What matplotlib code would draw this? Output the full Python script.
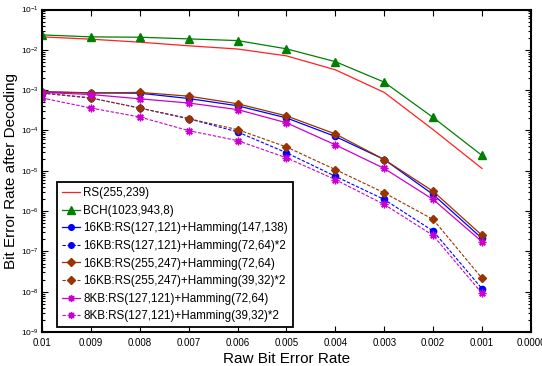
import matplotlib
matplotlib.use('Agg')
import matplotlib.pyplot as plt
from matplotlib.ticker import FixedLocator, FixedFormatter, LogLocator, NullFormatter

# raw bit error rate (x), decoded BER for each scheme (y)
raw_ber = [0.01, 0.009, 0.008, 0.007, 0.006, 0.005, 0.004, 0.003, 0.002, 0.001]

rs_255_239 = [2.1e-2, 1.84e-2, 1.55e-2, 1.26e-2, 1.05e-2, 7.1e-3, 3.2e-3, 8.8e-4, 1.05e-4, 1.14e-5]
bch_1023 = [2.35e-2, 2.1e-2, 2.06e-2, 1.87e-2, 1.7e-2, 1.06e-2, 5.1e-3, 1.58e-3, 2.1e-4, 2.4e-5]
kb16_rs127_h147 = [9.1e-4, 8.6e-4, 8.4e-4, 6.2e-4, 4.1e-4, 2.05e-4, 7.1e-5, 1.9e-5, 2.58e-6, 2.1e-7]
kb16_rs127_h72x2 = [8.5e-4, 6.4e-4, 3.6e-4, 1.96e-4, 9.2e-5, 2.8e-5, 7.3e-6, 1.94e-6, 3.2e-7, 1.19e-8]
kb16_rs255_h72 = [9.1e-4, 8.5e-4, 8.8e-4, 7.1e-4, 4.6e-4, 2.3e-4, 8.2e-5, 1.9e-5, 3.1e-6, 2.5e-7]
kb16_rs255_h39x2 = [8.5e-4, 6.4e-4, 3.6e-4, 1.96e-4, 1.05e-4, 3.9e-5, 1.07e-5, 2.84e-6, 6.2e-7, 2.15e-8]
kb8_rs127_h72 = [8.8e-4, 7.8e-4, 6.1e-4, 4.8e-4, 3.3e-4, 1.55e-4, 4.4e-5, 1.14e-5, 1.94e-6, 1.74e-7]
kb8_rs127_h39x2 = [6.4e-4, 3.6e-4, 2.16e-4, 9.9e-5, 5.6e-5, 2.1e-5, 6.05e-6, 1.46e-6, 2.49e-7, 9.1e-9]

labels = ['RS(255,239)', 'BCH(1023,943,8)',
          '16KB:RS(127,121)+Hamming(147,138)', '16KB:RS(127,121)+Hamming(72,64)*2',
          '16KB:RS(255,247)+Hamming(72,64)', '16KB:RS(255,247)+Hamming(39,32)*2',
          '8KB:RS(127,121)+Hamming(72,64)', '8KB:RS(127,121)+Hamming(39,32)*2']

x_ticks = [0.01, 0.009, 0.008, 0.007, 0.006, 0.005, 0.004, 0.003, 0.002, 0.001, 0.0]
x_ticklabels = ['0.01', '0.009', '0.008', '0.007', '0.006', '0.005', '0.004',
                '0.003', '0.002', '0.001', '0.0000']
y_ticks = [1e-9, 1e-8, 1e-7, 1e-6, 1e-5, 1e-4, 1e-3, 1e-2, 1e-1]
y_ticklabels = [r'$\mathregular{10^{%d}}$' % e for e in range(-9, 0)]

plt.rcParams['font.family'] = ['Liberation Sans', 'DejaVu Sans']

fig = plt.figure(figsize=(5.42, 3.66), dpi=100)
ax = fig.add_axes([0.0775, 0.0929, 0.902, 0.881])

blue = '#0000ff'
brown = '#993300'
mag = '#cc00cc'
ast = (8, 2, 0)

ax.plot(raw_ber, rs_255_239, '-', color='#ff2020', lw=0.9, label=labels[0])
ax.plot(raw_ber, bch_1023, '-', color='#008000', lw=0.9, marker='^', ms=6, label=labels[1])
ax.plot(raw_ber, kb16_rs127_h147, '-', color=blue, lw=0.9, marker='o', ms=4.5, label=labels[2])
ax.plot(raw_ber, kb16_rs127_h72x2, '--', color=blue, lw=0.8, marker='o', ms=4.5,
        dashes=(3, 1.5), label=labels[3])
ax.plot(raw_ber, kb16_rs255_h72, '-', color=brown, lw=0.9, marker='D', ms=4.5, label=labels[4])
ax.plot(raw_ber, kb16_rs255_h39x2, '--', color=brown, lw=0.8, marker='D', ms=4.5,
        dashes=(3, 1.5), label=labels[5])
ax.plot(raw_ber, kb8_rs127_h72, '-', color=mag, lw=0.9, marker=ast, ms=5.5, mew=1, label=labels[6])
ax.plot(raw_ber, kb8_rs127_h39x2, '--', color=mag, lw=0.8, marker=ast, ms=5.5, mew=1,
        dashes=(3, 1.5), label=labels[7])

ax.set_yscale('log')
ax.set_xlim(0.01, 0.0)
ax.set_ylim(1e-9, 1e-1)

ax.xaxis.set_major_locator(FixedLocator(x_ticks))
ax.xaxis.set_major_formatter(FixedFormatter(x_ticklabels))
ax.yaxis.set_major_locator(FixedLocator(y_ticks))
ax.yaxis.set_major_formatter(FixedFormatter(y_ticklabels))
ax.yaxis.set_minor_locator(LogLocator(base=10, subs=range(2, 10), numticks=20))
ax.yaxis.set_minor_formatter(NullFormatter())
for t in ax.get_xticklabels():
    t.set_fontsize(7)
for t in ax.get_yticklabels():
    t.set_fontsize(6)

ax.tick_params(which='both', direction='in', top=True, right=True, width=0.8)
ax.tick_params(axis='x', which='major', length=4, pad=4)
ax.tick_params(axis='y', which='major', length=4, pad=2)
ax.tick_params(which='minor', length=2)
for s in ax.spines.values():
    s.set_linewidth(1.5)

ax.set_xlabel('Raw Bit Error Rate', fontsize=11, labelpad=3)
ax.set_ylabel('Bit Error Rate after Decoding', fontsize=11)
ax.yaxis.set_label_coords(-0.049, 0.5)

leg = ax.legend(loc='lower left', bbox_to_anchor=(0.0307, 0.0155), borderaxespad=0,
                fontsize=8.4, fancybox=False, framealpha=1, edgecolor='black',
                handlelength=1.6, handletextpad=0.25, labelspacing=0.48,
                borderpad=0.4, markerscale=0.9)
leg.get_frame().set_linewidth(1.3)

fig.savefig('out.png', dpi=100)
